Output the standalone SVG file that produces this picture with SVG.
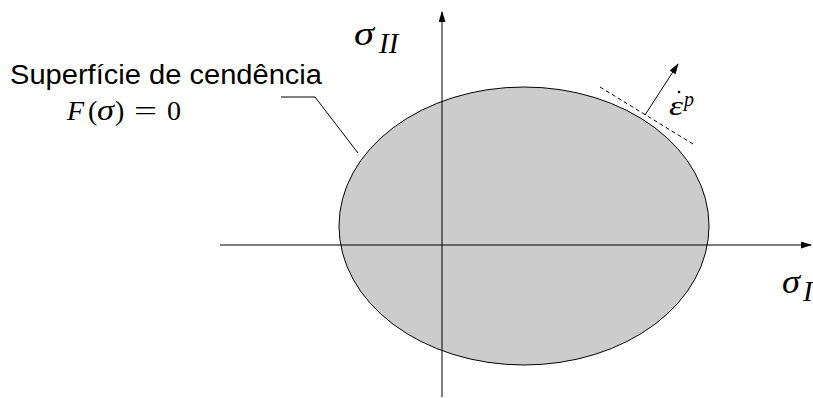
<svg xmlns="http://www.w3.org/2000/svg" width="813" height="398" viewBox="0 0 813 398">
<defs>
<marker id="ah" markerWidth="11" markerHeight="7" refX="10" refY="3.5" orient="auto" markerUnits="userSpaceOnUse">
<path d="M0,0 L11,3.5 L0,7 Z" fill="#000"/>
</marker>
<style>
.ax{stroke:#000;stroke-width:1;fill:none}
.math{font-family:"Liberation Serif","DejaVu Serif",serif;font-style:italic;fill:#000}
.rm{font-style:normal}
.sans{font-family:"Liberation Sans",Arial,sans-serif;fill:#000}
</style>
</defs>
<rect width="813" height="398" fill="#fff"/>
<g id="surface">
<ellipse cx="524" cy="226" rx="185" ry="139" fill="#cccccc" stroke="#000" stroke-width="1"/>
</g>
<g id="connectors">
<line class="ax" x1="220" y1="245" x2="811" y2="245" marker-end="url(#ah)"/>
<line class="ax" x1="442" y1="397" x2="442" y2="12" marker-end="url(#ah)"/>
<polyline class="ax" points="281,97 315,97 358,153"/>
<line class="ax" x1="600" y1="87" x2="693" y2="144" stroke-dasharray="4,3"/>
<line class="ax" x1="645" y1="115" x2="678" y2="64" marker-end="url(#ah)"/>
</g>
<g id="label-yield">
<text class="sans" x="10" y="84" font-size="27" textLength="312" lengthAdjust="spacingAndGlyphs">Superfície de cendência</text>
<text class="math" x="67" y="120" font-size="28">F</text>
<text class="math rm" x="88" y="120" font-size="28">(</text>
<text class="math" x="97" y="120" font-size="30" textLength="17" lengthAdjust="spacingAndGlyphs">σ</text>
<text class="math rm" x="115" y="120" font-size="28">)</text>
<text class="math rm" x="134" y="120" font-size="28" textLength="23" lengthAdjust="spacingAndGlyphs">=</text>
<text class="math rm" x="167" y="120" font-size="28">0</text>
</g>
<g id="label-sigma2">
<text class="math" x="354" y="45" font-size="33" textLength="20" lengthAdjust="spacingAndGlyphs">σ</text>
<text class="math" x="379" y="53" font-size="29">II</text>
</g>
<g id="label-sigma1">
<text class="math" x="782" y="293" font-size="33" textLength="18" lengthAdjust="spacingAndGlyphs">σ</text>
<text class="math" x="803" y="301" font-size="29">I</text>
</g>
<g id="label-eps">
<text class="math" x="669" y="115" font-size="28" textLength="14" lengthAdjust="spacingAndGlyphs">ε</text>
<text class="math" x="684" y="106" font-size="20">p</text>
<circle cx="679" cy="92" r="1.3" fill="#000"/>
</g>
</svg>
